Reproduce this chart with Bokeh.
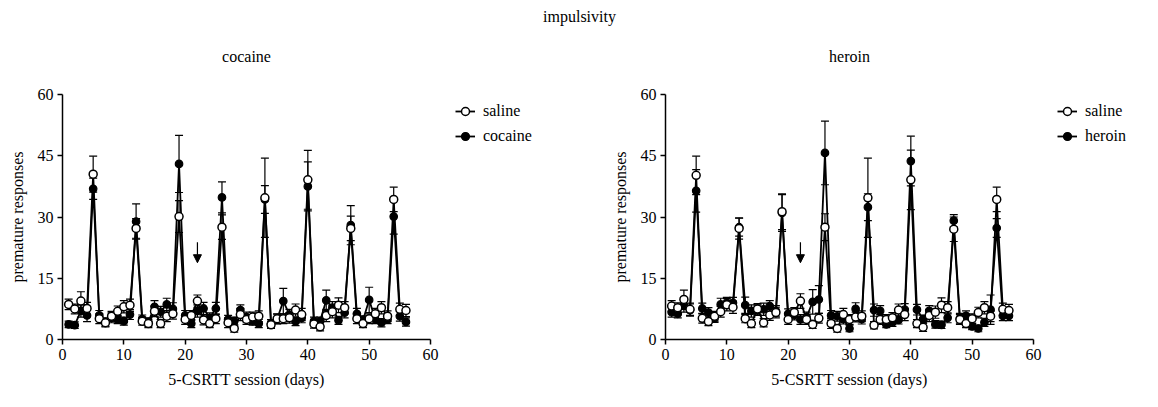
from bokeh.plotting import figure
from bokeh.models import (ColumnDataSource, Whisker, TeeHead, Legend, LegendItem,
                          Range1d, FixedTicker, Label, Arrow, NormalHead)
from bokeh.layouts import column, row
from bokeh.embed import file_html
from bokeh.resources import INLINE

# ---------------- data ----------------
days = list(range(1, 57))

saline_coc = [8.6, 7.5, 9.4, 7.6, 40.5, 5.1, 4.1, 5.7, 6.9, 8.0,
              8.4, 27.2, 4.5, 3.9, 6.9, 3.9, 5.7, 6.3, 30.1, 4.9,
              5.9, 9.4, 4.8, 3.9, 5.1, 27.5, 4.1, 2.7, 6.1, 4.9,
              5.5, 5.7, 34.7, 3.6, 5.1, 5.1, 5.3, 7.2, 6.1, 39.1,
              3.8, 3.1, 5.9, 6.8, 8.4, 7.8, 27.2, 5.1, 3.9, 5.1,
              6.3, 7.8, 5.7, 34.3, 7.4, 7.1]
saline_coc_sem = [1.3, 1.2, 2.3, 1.5, 4.4, 1.2, 1.0, 1.2, 1.3, 1.5,
                  1.5, 2.4, 1.0, 1.0, 1.3, 1.0, 1.3, 1.3, 3.9, 1.2,
                  1.2, 1.5, 1.2, 1.0, 1.2, 3.0, 1.2, 0.9, 1.5, 1.2,
                  1.2, 1.3, 9.7, 0.9, 1.2, 1.2, 1.3, 1.5, 1.5, 7.2,
                  1.0, 1.0, 1.5, 1.5, 1.8, 1.5, 3.0, 1.2, 1.0, 1.2,
                  1.3, 1.5, 1.3, 3.0, 1.5, 1.5]
cocaine = [3.7, 3.5, 7.0, 5.9, 36.9, 5.9, 4.3, 5.3, 4.9, 4.5,
           6.1, 28.9, 5.0, 4.3, 8.0, 6.8, 8.6, 7.5, 43.0, 5.9,
           3.9, 7.0, 7.6, 5.3, 7.6, 34.8, 4.9, 4.5, 7.2, 5.5,
           4.5, 3.9, 34.3, 3.9, 5.0, 9.4, 6.1, 4.4, 5.3, 37.5,
           4.5, 4.5, 9.6, 7.8, 4.7, 6.6, 28.0, 6.3, 4.8, 9.7,
           4.9, 4.1, 4.9, 30.1, 5.7, 4.3]
cocaine_sem = [0.8, 0.8, 1.5, 1.5, 2.6, 1.2, 1.0, 1.2, 1.0, 1.0,
               1.2, 4.3, 1.0, 1.0, 1.5, 1.3, 1.5, 1.5, 7.0, 1.2,
               1.0, 1.5, 1.5, 1.2, 1.5, 3.8, 1.0, 1.0, 1.3, 1.2,
               1.0, 1.0, 3.4, 1.0, 1.2, 3.1, 1.3, 1.0, 1.2, 6.0,
               1.0, 1.0, 2.5, 1.5, 1.0, 1.3, 4.8, 1.3, 1.0, 3.1,
               1.0, 1.0, 1.0, 4.3, 1.2, 1.0]

saline_her = [8.2, 7.8, 9.8, 7.4, 40.2, 5.2, 4.4, 5.7, 6.8, 8.5,
              7.9, 27.2, 5.1, 3.9, 7.5, 4.1, 6.0, 6.6, 31.3, 4.9,
              6.6, 9.4, 4.9, 3.7, 5.2, 27.5, 3.9, 2.7, 6.1, 4.9,
              5.5, 5.7, 34.7, 3.5, 4.9, 4.9, 5.3, 7.2, 6.1, 39.1,
              3.9, 3.0, 5.9, 6.7, 8.4, 7.8, 27.0, 4.9, 3.9, 5.1,
              6.6, 7.8, 5.7, 34.3, 7.4, 7.1]
saline_her_sem = [1.3, 1.2, 2.3, 1.5, 4.7, 1.2, 1.0, 1.2, 1.3, 1.5,
                  1.5, 2.6, 1.0, 1.0, 1.3, 1.0, 1.3, 1.3, 4.4, 1.2,
                  1.2, 1.8, 1.2, 1.0, 1.2, 3.3, 1.2, 0.9, 1.5, 1.2,
                  1.2, 1.3, 9.7, 0.9, 1.2, 1.2, 1.3, 1.5, 1.5, 7.3,
                  1.0, 1.0, 1.5, 1.5, 1.8, 1.5, 3.0, 1.2, 1.0, 1.2,
                  1.3, 1.5, 1.3, 3.0, 1.5, 1.5]
heroin = [6.7, 6.3, 8.2, 7.2, 36.4, 7.6, 6.6, 5.2, 8.6, 9.0,
          9.0, 27.5, 8.4, 7.0, 7.2, 7.4, 8.2, 7.0, 31.0, 6.3,
          6.0, 4.9, 5.5, 9.2, 9.8, 45.7, 5.9, 5.7, 5.0, 2.7,
          7.5, 5.0, 32.4, 7.2, 7.0, 3.7, 4.2, 4.8, 7.3, 43.7,
          7.3, 5.0, 7.0, 3.7, 3.6, 5.3, 29.1, 5.2, 5.8, 3.2,
          2.7, 4.2, 7.3, 27.3, 5.8, 5.8]
heroin_sem = [1.2, 1.0, 1.5, 1.5, 5.2, 1.3, 1.2, 1.0, 1.5, 1.3,
              1.3, 2.2, 2.0, 1.5, 1.3, 1.5, 1.3, 1.3, 4.5, 1.2,
              1.2, 1.2, 1.2, 3.0, 3.4, 7.8, 1.2, 1.2, 1.2, 0.8,
              1.5, 1.2, 3.3, 1.5, 1.3, 0.8, 1.0, 1.0, 1.5, 6.1,
              1.3, 1.0, 1.3, 0.9, 0.9, 1.2, 1.5, 1.2, 1.2, 0.8,
              0.8, 1.0, 3.6, 2.3, 1.2, 1.2]

x_ticks = [0, 10, 20, 30, 40, 50, 60]
y_ticks = [0, 15, 30, 45, 60]
arrow_day = 22
arrow_from, arrow_to = 23.8, 18.8

main_title = "impulsivity"
panel_titles = ["cocaine", "heroin"]
x_label = "5-CSRTT session (days)"
y_label = "premature responses"

FONT = "Liberation Serif"
FS = "16px"

# ---------------- layout geometry (pixels) ----------------
W = 1158
TOP_H = 84            # strip with the main title and the panel titles
PANEL_H = 407 - TOP_H
AX_W, AX_H = 368, 245
B_TOP, B_BOTTOM = 10, 68
LEFT_BORDERS = [62, 86]
RIGHT_PAD = 20
LEG_W = [129, 105]
LEG_X = [5, 4]
LEG_TOP = 7
ROW_H, ROW_GAP = 20, 5

LINE_W = 1.8
OPEN_STYLE = dict(size=8, marker="circle", fill_color="white", line_color="black", line_width=1.5)
FILL_STYLE = dict(size=7.5, marker="circle", fill_color="black", line_color="black", line_width=1.2)


def style_axes(p):
    for ax in (p.xaxis[0], p.yaxis[0]):
        ax.axis_line_width = 1.5
        ax.axis_line_color = "black"
        ax.major_tick_line_width = 1.5
        ax.major_tick_line_color = "black"
        ax.major_tick_out = 5
        ax.major_tick_in = 0
        ax.minor_tick_out = 0
        ax.minor_tick_in = 0
        ax.major_label_text_font = FONT
        ax.major_label_text_font_size = FS
        ax.major_label_text_color = "black"
        ax.axis_label_text_font = FONT
        ax.axis_label_text_font_size = FS
        ax.axis_label_text_font_style = "normal"
        ax.axis_label_text_color = "black"
        ax.major_label_standoff = 4
    p.xaxis.ticker = FixedTicker(ticks=x_ticks)
    p.yaxis.ticker = FixedTicker(ticks=y_ticks)
    p.xaxis.axis_label = x_label
    p.yaxis.axis_label = y_label
    p.xaxis.axis_label_standoff = 8
    p.yaxis.axis_label_standoff = 9


def sources(sal, sal_sem, drug, drug_sem):
    src_s = ColumnDataSource(dict(x=days, y=sal,
                                  lo=[a - b for a, b in zip(sal, sal_sem)],
                                  hi=[a + b for a, b in zip(sal, sal_sem)]))
    src_d = ColumnDataSource(dict(x=days, y=drug,
                                  lo=[a - b for a, b in zip(drug, drug_sem)],
                                  hi=[a + b for a, b in zip(drug, drug_sem)]))
    return src_s, src_d


def make_panel(src_s, src_d, b_left):
    p = figure(frame_width=AX_W, frame_height=AX_H,
               x_range=Range1d(0, 60), y_range=Range1d(0, 60),
               toolbar_location=None, output_backend="svg",
               min_border_left=b_left, min_border_right=RIGHT_PAD,
               min_border_top=B_TOP, min_border_bottom=B_BOTTOM)
    p.outline_line_color = None
    p.grid.visible = False
    style_axes(p)

    for src in (src_d, src_s):
        p.add_layout(Whisker(base="x", lower="lo", upper="hi", source=src, level="underlay",
                             line_color="black", line_width=1.2,
                             upper_head=TeeHead(size=8, line_color="black", line_width=1.2),
                             lower_head=TeeHead(size=8, line_color="black", line_width=1.2)))

    p.line("x", "y", source=src_d, line_color="black", line_width=LINE_W)
    p.line("x", "y", source=src_s, line_color="black", line_width=LINE_W)
    p.scatter("x", "y", source=src_d, **FILL_STYLE)
    p.scatter("x", "y", source=src_s, **OPEN_STYLE)

    p.add_layout(Arrow(x_start=arrow_day, y_start=arrow_from, x_end=arrow_day, y_end=arrow_to,
                       line_color="black", line_width=1.2,
                       end=NormalHead(size=8, fill_color="black", line_color="black")))
    return p


def make_legend_fig(src_s, src_d, drug_label, w, x_off):
    # a strip beside the panel that only shows the key; its view range holds no data
    q = figure(width=w, height=PANEL_H, x_range=Range1d(-2, -1), y_range=Range1d(-2, -1),
               toolbar_location=None, output_backend="svg",
               x_axis_location=None, y_axis_location=None,
               min_border_left=0, min_border_right=0,
               min_border_top=B_TOP, min_border_bottom=B_BOTTOM)
    q.outline_line_color = None
    q.grid.visible = False
    ls = q.line("x", "y", source=src_s, line_color="black", line_width=LINE_W)
    ms = q.scatter("x", "y", source=src_s, **OPEN_STYLE)
    ld = q.line("x", "y", source=src_d, line_color="black", line_width=LINE_W)
    md = q.scatter("x", "y", source=src_d, **FILL_STYLE)
    leg_h = 2 * ROW_H + ROW_GAP
    legend = Legend(items=[LegendItem(label="saline", renderers=[ls, ms]),
                           LegendItem(label=drug_label, renderers=[ld, md])],
                    location=(x_off, AX_H - LEG_TOP - leg_h), orientation="vertical",
                    label_text_font=FONT, label_text_font_size=FS, label_text_color="black",
                    glyph_width=20, glyph_height=ROW_H, label_height=ROW_H,
                    label_standoff=8, spacing=ROW_GAP, padding=0, margin=0,
                    border_line_color=None, background_fill_alpha=0)
    q.add_layout(legend)
    return q


s_l, d_l = sources(saline_coc, saline_coc_sem, cocaine, cocaine_sem)
s_r, d_r = sources(saline_her, saline_her_sem, heroin, heroin_sem)
p_left = make_panel(s_l, d_l, LEFT_BORDERS[0])
p_right = make_panel(s_r, d_r, LEFT_BORDERS[1])
g_left = make_legend_fig(s_l, d_l, "cocaine", LEG_W[0], LEG_X[0])
g_right = make_legend_fig(s_r, d_r, "heroin", LEG_W[1], LEG_X[1])

# top strip: main title and panel titles
top = figure(width=W, height=TOP_H, x_range=Range1d(0, W), y_range=Range1d(0, TOP_H),
             toolbar_location=None, output_backend="svg",
             x_axis_location=None, y_axis_location=None, min_border=0)
top.outline_line_color = None
top.grid.visible = False
top.add_layout(Label(x=W / 2, y=TOP_H - 16, text=main_title, text_align="center",
                     text_baseline="middle", text_font=FONT, text_font_size=FS,
                     text_color="black"))
x0 = 0
centers = []
for i in range(2):
    centers.append(x0 + LEFT_BORDERS[i] + AX_W / 2)
    x0 += LEFT_BORDERS[i] + AX_W + RIGHT_PAD + LEG_W[i]
for c, t in zip(centers, panel_titles):
    top.add_layout(Label(x=c, y=TOP_H - 56, text=t, text_align="center",
                         text_baseline="middle", text_font=FONT, text_font_size=FS,
                         text_color="black"))

layout = column(top, row(p_left, g_left, p_right, g_right))
open("out.html", "w").write(file_html(layout, INLINE))
